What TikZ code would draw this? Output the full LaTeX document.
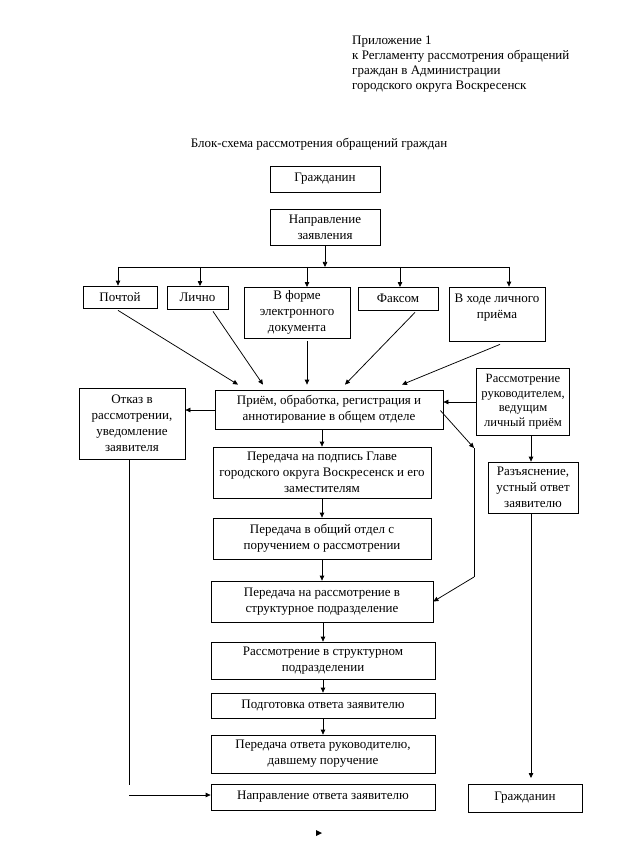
\documentclass[tikz,border=0pt]{standalone}
\usepackage{fontspec}
\setmainfont{Liberation Serif}
\usetikzlibrary{arrows.meta,calc}
\begin{document}
\begin{tikzpicture}[x=1pt,y=-1pt,
  box/.style={draw,line width=0.75pt,align=center,inner sep=0pt,font=\fontsize{13}{16}\selectfont},
  arr/.style={-{Triangle[length=5pt,width=4.5pt]},line width=0.75pt},
  ln/.style={line width=0.75pt}]
\useasboundingbox (0,0) rectangle (626,858);
\fill[white] (0,0) rectangle (626,858);

% header and title
\node[anchor=north west,align=left,inner sep=0pt,font=\fontsize{13}{15}\selectfont] (hdr) at (352,36)
  {Приложение 1\\к Регламенту рассмотрения обращений\\граждан в Администрации\\городского округа Воскресенск};
\node[inner sep=0pt,font=\fontsize{13}{15}\selectfont] (title) at (319,144)
  {Блок-схема рассмотрения обращений граждан};

% nodes
\node[box,minimum width=110pt,minimum height=26pt] (g1) at (325,179) {Гражданин};
\node[box,minimum width=110pt,minimum height=36pt] (napr) at (325,227) {Направление\\заявления};
\node[box,minimum width=74pt,minimum height=22pt] (pocht) at (120,297) {Почтой};
\node[box,minimum width=61pt,minimum height=23pt] (lichno) at (197.5,297.5) {Лично};
\node[box,minimum width=106pt,minimum height=51pt] (edoc) at (297,312.5) {В форме\\электронного\\документа};
\node[box,minimum width=80pt,minimum height=23pt] (fax) at (398,298.5) {Факсом};
\node[box,minimum width=96pt,minimum height=54pt] (hod) at (497,314) {В ходе личного\\приёма\\\mbox{}};
\node[box,minimum width=228pt,minimum height=39pt] (priem) at (329,409.5) {Приём, обработка, регистрация и\\аннотирование в общем отделе};
\node[box,minimum width=106pt,minimum height=71pt] (otkaz) at (132,423.5) {Отказ в\\рассмотрении,\\уведомление\\заявителя};
\node[box,minimum width=93pt,minimum height=67pt,font=\fontsize{12.6}{14.5}\selectfont] (ruk) at (523,401.5) {Рассмотрение\\руководителем,\\ведущим\\личный приём};
\node[box,minimum width=90pt,minimum height=51pt] (razy) at (533,487.5) {Разъяснение,\\устный ответ\\заявителю};
\node[box,minimum width=218pt,minimum height=51pt] (podpis) at (322,472.5) {Передача на подпись Главе\\городского округа Воскресенск и его\\заместителям};
\node[box,minimum width=218pt,minimum height=41pt] (obshch) at (322,538.5) {Передача в общий отдел с\\поручением о рассмотрении};
\node[box,minimum width=222pt,minimum height=41pt] (perrassm) at (322,601.5) {Передача на рассмотрение в\\структурное подразделение};
\node[box,minimum width=224pt,minimum height=37pt] (rstr) at (323,660.5) {Рассмотрение в структурном\\подразделении};
\node[box,minimum width=224pt,minimum height=25pt] (podg) at (323,705.5) {Подготовка ответа заявителю};
\node[box,minimum width=224pt,minimum height=38pt] (perotv) at (323,754) {Передача ответа руководителю,\\давшему поручение};
\node[box,minimum width=224pt,minimum height=26pt] (naprotv) at (323,797) {Направление ответа заявителю};
\node[box,minimum width=114pt,minimum height=28pt] (g2) at (525,798) {Гражданин};

% branch
\coordinate (bj) at (325,267);
\coordinate (bl) at (118,267);
\coordinate (br) at (509,267);
\draw[arr] (napr.south) -- (bj);
\draw[ln] (bl) -- (br);
\draw[arr] (bl) -- (bl |- pocht.north);
\draw[arr] (200,267) -- (200,286);
\draw[arr] (307,267) -- (307,287);
\draw[arr] (400,267) -- (400,287);
\draw[arr] (br) -- (br |- hod.north);

% into priem
\draw[arr] ([xshift=-2pt,yshift=-2pt]pocht.south) -- ([xshift=-91pt,yshift=5pt]priem.north);
\draw[arr] ([xshift=15.5pt,yshift=-2pt]lichno.south) -- ([xshift=-66pt,yshift=5pt]priem.north);
\draw[arr] ([xshift=10pt,yshift=-3pt]edoc.south) -- ([xshift=-22pt,yshift=5pt]priem.north);
\draw[arr] ([xshift=17pt,yshift=-2pt]fax.south) -- ([xshift=16pt,yshift=5pt]priem.north);
\draw[arr] ([xshift=3pt,yshift=-3pt]hod.south) -- ([xshift=73pt,yshift=5pt]priem.north);

% side arrows
\draw[arr] (priem.west |- 0,410) -- (otkaz.east |- 0,410);
\draw[arr] (ruk.west |- 0,402) -- (priem.east |- 0,402);
\draw[arr] (531,435) -- (razy.north -| 531,0);

% main chain
\draw[arr] (322,429) -- (podpis.north);
\draw[arr] (podpis.south) -- (obshch.north);
\draw[arr] (obshch.south) -- (perrassm.north);
\draw[arr] (323,622) -- (rstr.north);
\draw[arr] (rstr.south) -- (podg.north);
\draw[arr] (podg.south) -- (perotv.north);

% bypass on the right
\coordinate (c1) at (474,448);
\coordinate (c2) at (474,577);
\draw[arr] ([xshift=-3pt,yshift=-1pt]priem.east) -- (c1);
\draw[ln] (c1) -- (c2);
\draw[arr] (c2) -- (perrassm.east);

% otkaz to answer
\coordinate (o1) at (129,785);
\coordinate (o2) at (129,795);
\draw[ln] (otkaz.south -| 129,0) -- (o1);
\draw[arr] (o2) -- (naprotv.west |- o2);

% razyasn to citizen
\coordinate (gz) at (531,778);
\draw[arr] (razy.south -| 531,0) -- (gz);

% stray arrowhead
\fill (316,830) -- (322,833) -- (316,836) -- cycle;
\end{tikzpicture}
\end{document}
